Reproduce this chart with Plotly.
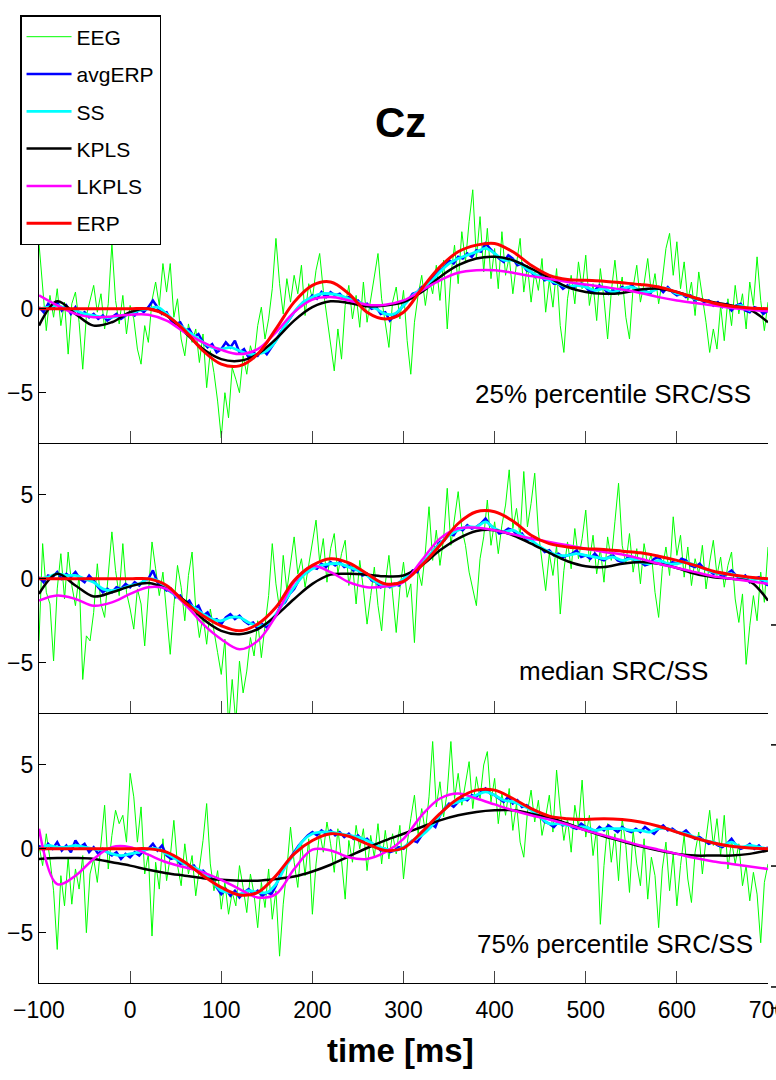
import numpy as np
import plotly.graph_objects as go

# ---------------- data ----------------
# EEG single trial, sampled every 4 ms from -100 to 700 ms
eeg_p1 = [3.9, 1.5, -1.3, 0.8, -0.5, 1.2, -1.0, 0.4, -2.7, 0.3, 1.0, -0.8, -3.6, -0.4, 0.6, 1.4, -0.2, 0.9, -1.2, 0.3,
          3.9, 0.5, -0.9, 0.8, -1.5, 0.2, -0.6, -2.4, -3.3, -1.0, -2.0, 0.5, 1.6, 0.2, 2.7, 1.0, 2.7, -0.5, 0.6, -1.8,
          -2.8, -0.9, -2.0, -1.2, -3.2, -1.5, -4.7, -2.5, -3.8, -5.5, -7.7, -5.0, -6.5, -3.5, -4.2, -5.0, -2.8, -3.9, -2.2, -3.0,
          -1.0, 0.1, -1.8, -0.6, 1.2, 4.2, 1.5, -0.3, 1.8, 0.4, 2.0, 0.9, 2.6, -0.4, 1.5, 0.6, 2.3, 3.3, 1.1, -0.5,
          -2.0, -3.7, -1.2, -3.0, 0.2, 1.4, -0.6, 0.8, -1.1, 1.6, -0.8, 0.5, 1.9, 3.3, 0.6, -0.8, -2.3, 0.4, 1.3, -0.6,
          1.1, -1.9, -3.9, -0.8, 0.8, 2.0, 0.2, 1.8, 0.9, 2.6, 0.5, 2.9, -1.2, 2.0, 3.8, 1.5, 4.6, 2.8, 5.2, 7.1,
          3.0, 5.5, 2.2, 4.8, 1.8, 3.6, 1.2, 4.6, 2.0, 3.1, 0.9, 2.7, 4.2, 1.0, 2.6, 0.4, 2.2, 1.1, 3.0, -0.2,
          1.7, 0.1, 2.4, -1.0, -2.6, 0.6, 2.0, 0.3, 2.8, 1.2, 3.2, 0.2, 1.5, -0.7, 2.4, 0.6, -1.8, 1.0, 2.9, 0.8,
          1.9, -0.5, -1.8, 1.3, 2.6, 0.4, 1.5, 3.0, 0.9, 2.1, 0.3, 1.7, 3.6, 4.5, 2.0, 4.0, 1.2, 2.8, 0.5, 1.6,
          -0.4, 2.2, 0.8, -0.8, -2.6, -1.2, -2.4, 0.2, -1.9, 0.6, -1.0, 1.4, -0.3, 0.9, -1.2, 1.6, 0.2, 3.1, 0.5, -1.3,
          0.4]
eeg_p2 = [-3.7, 2.1, -0.8, -1.5, -4.9, -0.6, 1.5, -1.2, 1.6, -0.4, -1.6, 0.2, -6.0, -3.4, -3.7, -2.0, 0.9, -1.5, -2.3, 0.4,
          2.8, 0.5, -1.0, 2.1, -0.8, -1.8, -3.0, -0.6, -1.5, -4.0, -0.8, 2.2, 0.6, -1.0, 0.4, -2.2, -4.5, -1.6, 0.8, -0.5,
          -2.5, 0.2, 1.6, -1.8, -3.5, -2.2, -3.9, -1.8, -3.2, -4.4, -5.7, -3.6, -8.8, -6.0, -8.6, -4.9, -6.8, -5.5, -3.5, -4.6,
          -2.5, -4.7, -2.8, -1.0, 2.1, -0.3, -1.8, 1.4, -0.7, 0.8, 2.5, 0.3, 1.2, -0.5, 0.9, 2.2, 3.5, 1.0, 2.4, -0.2,
          1.8, 2.7, 0.3, 1.5, 2.3, -0.4, 0.9, -1.5, 1.1, -0.6, -2.7, -1.0, 0.7, -1.6, -3.1, -0.3, 1.4, -0.9, -3.2, -0.6,
          1.0, -1.1, -0.3, -3.8, 0.5, -0.4, 1.6, 4.3, 1.1, 2.9, 0.8, 2.4, 5.4, 2.0, 3.6, 5.2, 3.0, 2.0, 0.4, -0.6,
          -1.6, 1.2, 2.5, 4.7, 2.0, 3.4, 1.5, 3.2, 4.4, 6.5, 3.0, 4.2, 2.5, 6.4, 3.1, 4.5, 6.3, 2.8, 1.0, -0.7,
          1.5, 0.2, 2.0, -2.1, 0.5, 2.2, 0.6, 3.0, 1.2, 2.4, 4.1, 1.0, 2.6, 0.3, 1.8, -0.2, 2.5, 1.1, 3.4, 5.7,
          2.0, 0.9, 2.7, 0.4, 1.8, -0.3, 2.1, 0.8, 1.5, -0.8, -2.3, 0.6, 1.9, 0.2, 3.7, 1.4, 2.6, 0.1, 1.9, -0.4,
          1.2, 0.3, 2.0, -0.6, 1.0, 2.3, 0.2, 1.3, -0.5, 0.8, 1.6, -1.2, -2.6, -0.9, -5.1, -2.8, -1.0, -2.5, 0.4, -1.4,
          1.9]
eeg_p3 = [0.2, -1.0, 0.9, -0.6, -2.5, -6.0, -1.6, -3.4, -0.5, -3.3, -1.2, -2.4, -0.4, -5.0, -1.5, -0.6, -2.0, 0.3, 2.6, -1.2,
          0.8, 2.3, 1.5, 2.0, 0.4, 4.5, 3.1, 0.4, 2.5, -1.5, -0.3, -5.2, -0.8, -2.4, 0.6, -1.9, -0.5, 1.7, -1.0, -2.2,
          0.3, -1.5, -0.4, -2.8, -1.1, 0.5, 2.7, -0.9, -2.5, -1.3, -3.6, -2.0, -3.9, -2.6, -3.4, -1.0, -2.3, -3.8, -1.5, -2.7,
          -4.7, -2.0, -3.5, -1.2, -4.2, -2.5, -6.4, -3.3, -1.2, 1.3, -0.8, -2.3, 0.4, -1.6, 0.6, -3.9, -0.9, 1.0, -0.2, 1.6,
          0.3, -1.4, 1.2, -0.7, -3.0, 0.5, -0.8, 1.4, 0.0, 1.2, -1.3, 0.8, -0.5, 1.5, -0.9, 1.1, -0.6, 0.9, -0.3, 1.4,
          -1.8, 0.3, 1.8, 3.2, 0.9, 2.4, 1.0, 3.1, 6.4, 2.5, 4.0, 1.9, 3.4, 6.4, 3.0, 4.5, 2.6, 3.9, 5.2, 2.4,
          4.3, 3.0, 5.0, 5.8, 2.8, 4.2, 1.5, 3.3, 2.0, 3.6, 1.1, 2.7, 0.4, -0.5, 2.2, 3.5, 1.6, 2.9, 0.8, 1.9,
          3.2, 1.0, 4.7, 2.3, 0.5, 1.8, -0.2, 2.6, 1.3, 4.1, 0.7, 2.0, -0.4, 1.2, -4.5, -1.0, 1.5, -0.8, 0.9, -1.9,
          1.8, 0.2, -2.6, 1.1, -0.9, -2.2, 0.6, -3.0, -0.5, -1.6, -4.7, -1.2, 0.4, -2.5, -0.3, -3.4, -1.0, 0.8, -1.8, -3.2,
          -0.2, 1.0, -1.5, 0.6, 2.3, 0.2, 1.8, -0.4, 2.0, -1.2, 0.5, -0.9, 0.3, -2.2, -1.0, -3.1, -1.4, -2.7, -5.6, -2.0,
          -0.9]

# average ERP, every 5 ms
avg_p1 = [0.1, -0.2, 0.3, 0.0, 0.4, -0.1, 0.2, -0.3, 0.1, -0.4, -0.2, -0.5, -0.3, -0.6, -0.4, -0.7, -0.5, -0.3, -0.6, -0.4,
          -0.2, -0.4, 0.0, -0.2, 0.1, 0.5, 0.1, -0.3, -0.2, -0.7, -0.9, -0.8, -1.3, -1.2, -1.7, -1.5, -2.0, -2.3, -2.1, -2.6,
          -2.4, -2.0, -2.3, -1.9, -2.6, -2.4, -2.9, -2.6, -2.8, -2.4, -2.7, -2.3, -1.9, -1.4, -1.0, -0.6, -0.2, 0.1, 0.4, 0.5,
          0.8, 0.6, 1.0, 0.7, 1.0, 0.8, 0.9, 0.6, 0.7, 0.4, 0.5, 0.2, 0.3, 0.0, 0.1, -0.3, -0.2, -0.7, -0.4, -0.1,
          0.2, 0.5, 0.9, 1.0, 1.3, 1.2, 1.7, 2.0, 2.3, 2.5, 2.9, 2.7, 3.1, 3.0, 3.3, 3.1, 3.5, 3.4, 3.9, 3.6,
          3.3, 3.0, 2.8, 3.2, 3.0, 2.6, 2.7, 2.3, 2.2, 1.9, 2.0, 1.7, 1.8, 1.5, 1.5, 1.2, 1.4, 1.2, 1.4, 1.5,
          1.3, 1.0, 1.1, 1.4, 1.2, 0.9, 1.1, 1.0, 1.3, 1.1, 1.4, 1.2, 1.0, 1.1, 0.9, 1.2, 1.3, 1.0, 1.3, 1.0,
          0.8, 0.9, 0.7, 0.8, 0.5, 0.6, 0.4, 0.5, 0.2, 0.4, 0.1, 0.3, -0.1, 0.2, 0.3, -0.1, -0.2, 0.1, 0.0, -0.3,
          -0.1]
avg_p2 = [0.1, -0.2, 0.2, 0.1, 0.4, 0.0, 0.3, 0.1, 0.4, 0.0, -0.2, 0.2, -0.1, -0.5, -0.8, -0.6, -0.8, -0.5, -0.6, -0.3,
          -0.5, -0.2, -0.4, -0.1, 0.0, 0.5, -0.2, -0.4, -0.7, -0.6, -1.1, -1.0, -1.5, -1.3, -1.8, -1.6, -2.2, -2.0, -2.5, -2.4,
          -2.7, -2.3, -2.1, -2.4, -2.2, -2.5, -2.7, -2.6, -3.0, -2.7, -2.9, -2.5, -2.2, -1.6, -1.4, -0.9, -0.6, -0.1, 0.3, 0.4,
          0.7, 0.6, 0.9, 0.7, 1.0, 0.8, 1.0, 0.7, 0.8, 0.5, 0.6, 0.2, 0.3, -0.1, -0.2, -0.5, -0.3, -0.5, -0.3, -0.4,
          0.0, 0.1, 0.5, 0.4, 0.9, 1.1, 1.5, 1.8, 2.2, 2.3, 2.7, 2.6, 3.0, 2.9, 3.2, 3.0, 3.1, 3.3, 3.6, 3.2,
          3.0, 2.7, 2.8, 3.0, 2.9, 2.6, 2.7, 2.3, 2.4, 2.0, 1.9, 1.6, 1.7, 1.4, 1.5, 1.3, 1.4, 1.5, 1.7, 1.3,
          1.4, 1.2, 1.5, 1.2, 1.1, 1.3, 1.4, 1.1, 1.0, 1.2, 1.3, 1.0, 1.0, 0.8, 0.9, 1.2, 1.3, 0.9, 0.8, 1.0,
          0.9, 1.2, 1.1, 0.8, 0.7, 0.9, 0.6, 0.5, 0.3, 0.4, 0.1, 0.3, 0.5, 0.2, 0.0, 0.2, -0.2, 0.0, 0.1, -0.2,
          -0.4]
avg_p3 = [0.2, -0.1, 0.3, 0.0, 0.4, -0.1, 0.2, -0.2, 0.5, 0.1, 0.3, -0.2, 0.1, -0.3, 0.0, -0.2, -0.4, -0.2, -0.6, -0.3,
          -0.5, -0.2, -0.4, -0.1, 0.0, 0.3, -0.1, 0.2, -0.4, -0.6, -0.5, -0.9, -0.8, -1.1, -1.0, -1.4, -1.3, -1.6, -1.8, -2.3,
          -2.7, -2.4, -2.8, -2.5, -2.9, -2.6, -2.4, -2.7, -2.5, -2.8, -2.6, -2.7, -2.2, -1.5, -1.0, -0.6, -0.2, 0.2, 0.5, 0.8,
          1.0, 0.8, 1.1, 0.9, 1.1, 0.8, 1.0, 0.7, 0.9, 0.6, 0.8, 0.5, 0.6, 0.3, 0.2, -0.1, 0.0, -0.2, -0.1, 0.1,
          0.0, 0.3, 0.5, 0.4, 0.8, 1.2, 1.5, 1.3, 2.0, 2.4, 2.7, 2.5, 2.8, 3.0, 2.9, 3.2, 3.1, 3.4, 3.6, 3.3,
          3.2, 3.0, 2.8, 3.1, 2.7, 2.9, 2.5, 2.6, 2.4, 2.0, 1.9, 1.6, 1.5, 1.3, 1.6, 1.4, 1.5, 1.3, 1.2, 1.5,
          1.3, 1.2, 1.0, 1.3, 1.1, 1.4, 1.2, 1.0, 1.3, 1.1, 1.0, 1.2, 1.0, 1.3, 1.1, 0.9, 1.2, 1.4, 1.1, 1.2,
          1.0, 0.9, 1.1, 0.8, 0.6, 0.7, 0.5, 0.3, 0.4, 0.2, 0.1, 0.3, 0.6, 0.2, 0.0, 0.1, 0.3, 0.0, 0.2, -0.1,
          0.1]

# single-trial estimate by SS, every 10 ms
ss_p1 = [0.0, 0.1, 0.2, 0.0, -0.1, -0.3, -0.4, -0.5, -0.5, -0.4, -0.3, -0.1, 0.0, 0.1, -0.3, -0.8, -1.2, -1.6, -2.0, -2.3,
         -2.4, -2.3, -2.5, -2.7, -2.7, -2.5, -1.9, -1.0, -0.2, 0.4, 0.7, 0.9, 0.9, 0.8, 0.6, 0.4, 0.2, 0.0, -0.3, -0.3,
         0.2, 0.8, 1.2, 1.6, 2.2, 2.7, 3.0, 3.2, 3.4, 3.6, 3.3, 2.9, 2.9, 2.6, 2.2, 1.9, 1.7, 1.5, 1.3, 1.4,
         1.3, 1.1, 1.2, 1.0, 1.2, 1.3, 1.1, 1.0, 1.2, 1.2, 0.9, 0.8, 0.6, 0.5, 0.3, 0.2, 0.1, 0.2, -0.1, 0.0,
         -0.1]
ss_p2 = [0.0, 0.1, 0.3, 0.2, 0.2, 0.0, -0.2, -0.6, -0.7, -0.6, -0.4, -0.3, 0.0, -0.1, -0.6, -1.0, -1.4, -1.7, -2.1, -2.4,
         -2.5, -2.3, -2.3, -2.6, -2.8, -2.7, -2.1, -1.3, -0.5, 0.2, 0.6, 0.8, 0.9, 0.9, 0.7, 0.5, 0.2, -0.2, -0.4, -0.4,
         0.0, 0.4, 0.9, 1.5, 2.1, 2.6, 2.9, 3.1, 3.1, 3.4, 3.0, 2.8, 2.9, 2.6, 2.3, 1.9, 1.6, 1.4, 1.4, 1.5,
         1.4, 1.3, 1.2, 1.3, 1.1, 1.2, 1.0, 0.9, 1.1, 0.9, 0.9, 1.0, 0.8, 0.6, 0.4, 0.3, 0.3, 0.1, -0.1, 0.0,
         -0.2]
ss_p3 = [0.0, 0.2, 0.1, 0.1, 0.2, 0.1, 0.0, -0.1, -0.3, -0.4, -0.3, -0.2, 0.0, 0.0, -0.3, -0.6, -0.9, -1.1, -1.4, -1.9,
         -2.5, -2.6, -2.7, -2.5, -2.6, -2.6, -2.1, -1.1, -0.3, 0.5, 0.9, 1.0, 1.0, 0.9, 0.8, 0.7, 0.5, 0.2, 0.0, -0.1,
         0.1, 0.5, 0.8, 1.3, 2.0, 2.6, 2.8, 3.0, 3.2, 3.4, 3.2, 2.9, 2.8, 2.6, 2.3, 1.9, 1.5, 1.5, 1.4, 1.3,
         1.3, 1.1, 1.2, 1.2, 1.2, 1.1, 1.1, 1.0, 1.2, 1.2, 1.0, 0.9, 0.7, 0.5, 0.4, 0.2, 0.4, 0.1, 0.2, 0.1,
         0.0]

# smooth estimates, every 20 ms
kpls_p1 = [-1.0, 0.45, -0.3, -1.0, -0.8, -0.2, 0.0, -0.4, -1.4, -2.4, -3.0, -3.1, -2.7, -1.8, -0.7, 0.1, 0.45, 0.35, 0.15, 0.2,
           0.4, 1.0, 1.9, 2.6, 3.0, 3.1, 2.9, 2.4, 1.85, 1.3, 1.0, 0.9, 0.95, 1.15, 1.2, 1.0, 0.65, 0.4, 0.2, -0.05,
           -0.8]
lkpls_p1 = [0.8, 0.2, -0.3, -0.5, -0.45, -0.35, -0.35, -0.7, -1.4, -2.0, -2.45, -2.7, -2.4, -1.4, -0.2, 0.55, 0.7, 0.5, 0.25, 0.25,
            0.5, 1.1, 1.7, 2.15, 2.3, 2.3, 2.15, 1.95, 1.8, 1.6, 1.45, 1.3, 1.15, 0.95, 0.7, 0.5, 0.35, 0.2, 0.05, -0.05,
            -0.15]
erp_p1 = [0.0, 0.0, 0.0, 0.0, 0.0, 0.0, 0.0, -0.4, -1.3, -2.5, -3.3, -3.4, -2.7, -1.2, 0.4, 1.4, 1.6, 0.9, -0.2, -0.6,
          -0.2, 1.2, 2.5, 3.4, 3.8, 3.9, 3.4, 2.6, 2.0, 1.75, 1.7, 1.65, 1.55, 1.45, 1.3, 1.0, 0.65, 0.35, 0.15, 0.05,
          0.0]
kpls_p2 = [-0.9, 0.3, -0.4, -1.05, -0.8, -0.45, -0.25, -0.6, -1.3, -2.4, -3.1, -3.3, -3.0, -2.2, -1.2, -0.3, 0.25, 0.3, 0.25, 0.15,
           0.2, 0.8, 1.7, 2.4, 2.85, 2.9, 2.6, 2.1, 1.55, 1.05, 0.75, 0.7, 0.9, 1.0, 0.9, 0.65, 0.3, 0.1, 0.0, -0.15,
           -1.3]
lkpls_p2 = [-1.3, -1.0, -1.2, -1.6, -1.4, -0.9, -0.5, -0.6, -1.5, -2.7, -3.6, -4.2, -3.7, -2.2, -0.2, 0.75, 0.4, -0.2, -0.5, -0.45,
            -0.2, 1.1, 2.4, 3.0, 3.05, 2.9, 2.65, 2.4, 2.2, 2.0, 1.8, 1.6, 1.45, 1.2, 0.9, 0.65, 0.4, 0.15, 0.0, -0.15,
            -0.3]
erp_p2 = [0.0, 0.0, 0.0, 0.0, 0.0, 0.0, 0.0, -0.4, -1.4, -2.2, -2.8, -3.1, -2.7, -1.7, -0.1, 0.8, 1.2, 0.95, 0.3, -0.3,
          -0.15, 0.8, 2.0, 3.3, 4.0, 4.0, 3.45, 2.6, 2.1, 1.9, 1.8, 1.75, 1.65, 1.55, 1.35, 1.1, 0.8, 0.45, 0.25, 0.1,
          0.0]
kpls_p3 = [-0.6, -0.55, -0.55, -0.6, -0.8, -1.0, -1.25, -1.45, -1.6, -1.75, -1.85, -1.9, -1.9, -1.8, -1.65, -1.35, -0.95, -0.45, 0.05, 0.5,
           0.9, 1.3, 1.7, 2.0, 2.2, 2.3, 2.3, 2.1, 1.85, 1.5, 1.1, 0.75, 0.45, 0.15, -0.1, -0.3, -0.4, -0.4, -0.4, -0.3,
           -0.1]
lkpls_p3 = [1.2, -2.1, -1.6, -0.6, 0.1, 0.1, -0.35, -0.8, -1.1, -1.4, -1.85, -2.4, -2.9, -2.7, -1.2, -0.05, -0.1, -0.5, -0.6, -0.2,
            0.6, 2.0, 3.0, 3.3, 3.0, 2.65, 2.3, 2.0, 1.75, 1.45, 1.1, 0.8, 0.5, 0.2, -0.05, -0.3, -0.55, -0.75, -0.9, -1.05,
            -1.2]
erp_p3 = [0.0, 0.0, 0.0, 0.0, 0.0, 0.0, 0.0, -0.2, -0.8, -1.6, -2.3, -2.75, -2.6, -1.6, -0.3, 0.5, 0.9, 0.75, 0.3, -0.1,
          0.05, 1.0, 2.1, 3.0, 3.5, 3.5, 3.0, 2.4, 1.95, 1.8, 1.75, 1.8, 1.75, 1.6, 1.35, 1.0, 0.65, 0.35, 0.15, 0.05,
          0.0]

panel_labels = ["25% percentile SRC/SS", "median SRC/SS", "75% percentile SRC/SS"]
x_ticks = [-100, 0, 100, 200, 300, 400, 500, 600, 700]
y_ticks = [-5, 0, 5]

panels = [
    dict(EEG=eeg_p1, avgERP=avg_p1, SS=ss_p1, KPLS=kpls_p1, LKPLS=lkpls_p1, ERP=erp_p1),
    dict(EEG=eeg_p2, avgERP=avg_p2, SS=ss_p2, KPLS=kpls_p2, LKPLS=lkpls_p2, ERP=erp_p2),
    dict(EEG=eeg_p3, avgERP=avg_p3, SS=ss_p3, KPLS=kpls_p3, LKPLS=lkpls_p3, ERP=erp_p3),
]

# ---------------- styling ----------------
FONT = "Liberation Sans, Arial, Helvetica, sans-serif"
styles = {
    "EEG": dict(color="#00ff00", width=1.0, shape="linear"),
    "avgERP": dict(color="#0000ff", width=2.5, shape="linear"),
    "SS": dict(color="#00ffff", width=2.8, shape="spline"),
    "KPLS": dict(color="#000000", width=2.5, shape="spline"),
    "LKPLS": dict(color="#ff00ff", width=2.5, shape="spline"),
    "ERP": dict(color="#ff0000", width=3.0, shape="spline"),
}
order = ["EEG", "avgERP", "SS", "KPLS", "LKPLS", "ERP"]

fig = go.Figure()
for i, pdata in enumerate(panels):
    ax = "" if i == 0 else str(i + 1)
    for name in order:
        vals = pdata[name]
        t = np.linspace(-100, 700, len(vals))
        st = styles[name]
        fig.add_trace(go.Scatter(
            x=t, y=vals, mode="lines", name=name,
            legendgroup=name, showlegend=(i == 0),
            line=dict(color=st["color"], width=st["width"], shape=st["shape"]),
            xaxis="x" + ax, yaxis="y" + ax,
        ))

domains = [[2 / 3, 1.0], [1 / 3, 2 / 3], [0.0, 1 / 3]]
layout = dict(
    width=776, height=1080,
    margin=dict(l=39, r=8, t=173, b=97, pad=0, autoexpand=False),
    paper_bgcolor="white", plot_bgcolor="white",
    font=dict(family=FONT, color="black", size=23),
    showlegend=True,
    legend=dict(x=-0.026, y=1.195, xanchor="left", yanchor="top",
                bgcolor="white", bordercolor="black", borderwidth=1.5,
                font=dict(family=FONT, size=21, color="black"),
                tracegroupgap=7, traceorder="grouped", itemwidth=45),
)
for i in range(3):
    ax = "" if i == 0 else str(i + 1)
    layout["xaxis" + ax] = dict(
        domain=[0, 1], range=[-100, 700], anchor="y" + ax, automargin=False,
        tickmode="array", tickvals=x_ticks, showticklabels=(i == 2),
        ticklabeloverflow="allow", ticklabelstandoff=6,
        ticks="inside", ticklen=12, tickwidth=1, tickcolor="#444444",
        showline=True, linecolor="black", linewidth=1.3, mirror=False,
        showgrid=False, zeroline=False,
        tickfont=dict(family=FONT, size=23, color="black"),
    )
    layout["yaxis" + ax] = dict(
        domain=domains[i], range=[-8.0, 8.1], anchor="x" + ax, automargin=False,
        tickmode="array", tickvals=y_ticks,
        ticks="inside", ticklen=7, tickwidth=1, tickcolor="black",
        showline=True, linecolor="black", linewidth=1.3, mirror=False,
        showgrid=False, zeroline=False,
        tickfont=dict(family=FONT, size=23, color="black"),
    )
fig.update_layout(**layout)

annotations = [
    dict(text="<b>Cz</b>", xref="paper", yref="paper", x=0.4965, y=1.062,
         xanchor="center", yanchor="middle", showarrow=False,
         font=dict(family=FONT, size=42, color="black")),
    dict(text="<b>time [ms]</b>", xref="paper", yref="paper", x=0.4965, y=-0.083,
         xanchor="center", yanchor="middle", showarrow=False,
         font=dict(family=FONT, size=33, color="black")),
]
label_pos = [(0.979, -5.1, "y"), (0.920, -5.5, "y2"), (0.982, -5.7, "y3")]
for txt, (px, py, yr) in zip(panel_labels, label_pos):
    annotations.append(dict(text=txt, xref="paper", yref=yr, x=px, y=py,
                            xanchor="right", yanchor="middle", showarrow=False,
                            font=dict(family=FONT, size=26, color="black")))
fig.update_layout(annotations=annotations)

# clipped tick fragments of a neighbouring figure at the right page edge
edge_marks_y = [0.442, 0.294, 0.1444, -0.0049, -0.0309]
fig.update_layout(shapes=[
    dict(type="line", xref="paper", yref="paper", x0=1.0041, x1=1.013, y0=yy, y1=yy,
         line=dict(color="black", width=1.5)) for yy in edge_marks_y
])

fig.write_html("out.html")
